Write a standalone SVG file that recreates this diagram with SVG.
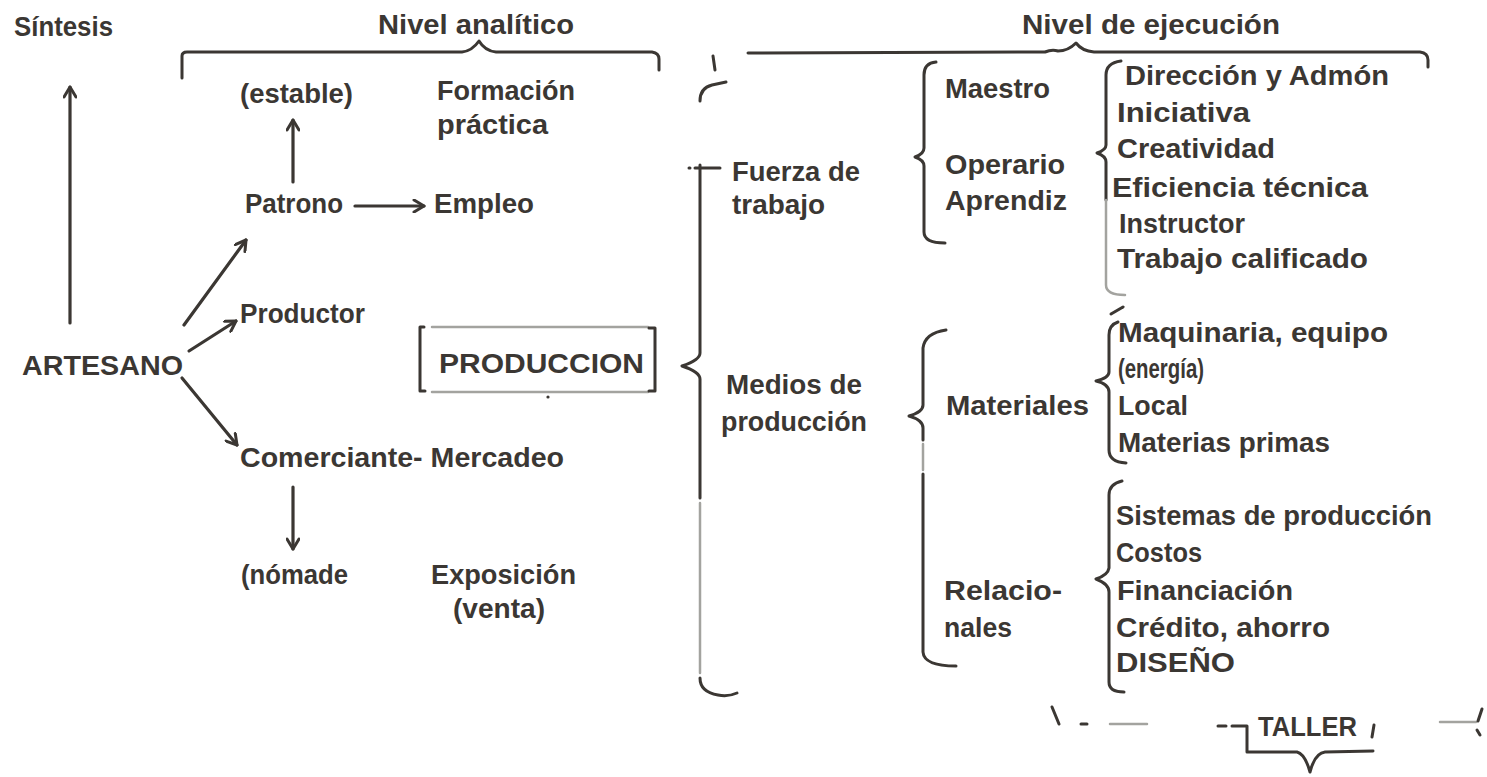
<svg xmlns="http://www.w3.org/2000/svg" width="1487" height="777" viewBox="0 0 1487 777">
<style>
.t{font-family:"Liberation Sans",Arial,sans-serif;font-weight:bold;font-size:27px;fill:#3b3733}
.ln{fill:none;stroke:#3b3733;stroke-width:3;stroke-linecap:round;stroke-linejoin:round}
.gr{fill:none;stroke:#a3a39f;stroke-width:2.5;stroke-linecap:round}
.ar{fill:none;stroke:#3b3733;stroke-width:3.2;stroke-linecap:round}
</style>
<defs>
<marker id="ah" viewBox="0 0 14 14" refX="12" refY="7" markerWidth="14" markerHeight="14" orient="auto" markerUnits="userSpaceOnUse">
<path d="M2,1 L12,7 L2,13" fill="none" stroke="#3b3733" stroke-width="3" stroke-linecap="round" stroke-linejoin="round"/>
</marker>
</defs>
<rect width="1487" height="777" fill="#ffffff"/>

<g id="header">
<g id="n-sintesis"><text class="t" x="14" y="36" textLength="99" lengthAdjust="spacingAndGlyphs">Síntesis</text></g>
<g id="n-nivel-analitico"><text class="t" x="378" y="34" textLength="196" lengthAdjust="spacingAndGlyphs">Nivel analítico</text></g>
<g id="n-nivel-ejecucion"><text class="t" x="1022" y="34" textLength="258" lengthAdjust="spacingAndGlyphs">Nivel de ejecución</text></g>
</g>

<g id="n-artesano"><text class="t" x="22" y="375" textLength="161" lengthAdjust="spacingAndGlyphs">ARTESANO</text></g>
<g id="n-estable"><text class="t" x="240" y="103" textLength="113" lengthAdjust="spacingAndGlyphs">(estable)</text></g>
<g id="n-formacion"><text class="t" x="437" y="100" textLength="138" lengthAdjust="spacingAndGlyphs">Formación</text><text class="t" x="437" y="134" textLength="111" lengthAdjust="spacingAndGlyphs">práctica</text></g>
<g id="n-patrono"><text class="t" x="245" y="213" textLength="98" lengthAdjust="spacingAndGlyphs">Patrono</text></g>
<g id="n-empleo"><text class="t" x="434" y="213" textLength="100" lengthAdjust="spacingAndGlyphs">Empleo</text></g>
<g id="n-productor"><text class="t" x="240" y="323" textLength="125" lengthAdjust="spacingAndGlyphs">Productor</text></g>
<g id="n-produccion">
<path class="ln" d="M424,327 L420,327 L420,391 L425,391" stroke-width="2.5"/>
<path class="gr" d="M432,327 L648,327 M432,392 L648,392"/>
<path class="ln" d="M649,328 L655,328 L655,391 L649,391" stroke-width="3"/>
<text class="t" x="439" y="373" textLength="205" lengthAdjust="spacingAndGlyphs">PRODUCCION</text>
<circle cx="548" cy="397" r="1.6" fill="#3b3733"/>
</g>
<g id="n-comerciante"><text class="t" x="240" y="467" textLength="324" lengthAdjust="spacingAndGlyphs">Comerciante- Mercadeo</text></g>
<g id="n-nomade"><text class="t" x="241" y="584" textLength="107" lengthAdjust="spacingAndGlyphs">(nómade</text></g>
<g id="n-exposicion"><text class="t" x="431" y="584" textLength="145" lengthAdjust="spacingAndGlyphs">Exposición</text><text class="t" x="453" y="618" textLength="92" lengthAdjust="spacingAndGlyphs">(venta)</text></g>

<g id="n-fuerza"><text class="t" x="732" y="181" textLength="128" lengthAdjust="spacingAndGlyphs">Fuerza de</text><text class="t" x="732" y="214" textLength="93" lengthAdjust="spacingAndGlyphs">trabajo</text></g>
<g id="n-medios"><text class="t" x="726" y="394" textLength="136" lengthAdjust="spacingAndGlyphs">Medios de</text><text class="t" x="721" y="431" textLength="146" lengthAdjust="spacingAndGlyphs">producción</text></g>

<g id="n-maestro"><text class="t" x="945" y="98" textLength="105" lengthAdjust="spacingAndGlyphs">Maestro</text></g>
<g id="n-operario"><text class="t" x="945" y="174" textLength="120" lengthAdjust="spacingAndGlyphs">Operario</text></g>
<g id="n-aprendiz"><text class="t" x="945" y="210" textLength="122" lengthAdjust="spacingAndGlyphs">Aprendiz</text></g>
<g id="n-materiales"><text class="t" x="946" y="415" textLength="143" lengthAdjust="spacingAndGlyphs">Materiales</text></g>
<g id="n-relacionales"><text class="t" x="944" y="600" textLength="118" lengthAdjust="spacingAndGlyphs">Relacio-</text><text class="t" x="944" y="637" textLength="68" lengthAdjust="spacingAndGlyphs">nales</text></g>

<g id="n-lista-fuerza">
<text class="t" x="1125" y="85" textLength="264" lengthAdjust="spacingAndGlyphs">Dirección y Admón</text>
<text class="t" x="1117" y="122" textLength="133" lengthAdjust="spacingAndGlyphs">Iniciativa</text>
<text class="t" x="1117" y="158" textLength="158" lengthAdjust="spacingAndGlyphs">Creatividad</text>
<text class="t" x="1112" y="197" textLength="256" lengthAdjust="spacingAndGlyphs">Eficiencia técnica</text>
<text class="t" x="1119" y="233" textLength="126" lengthAdjust="spacingAndGlyphs">Instructor</text>
<text class="t" x="1117" y="268" textLength="251" lengthAdjust="spacingAndGlyphs">Trabajo calificado</text>
</g>
<g id="n-lista-materiales">
<text class="t" x="1118" y="342" textLength="270" lengthAdjust="spacingAndGlyphs">Maquinaria, equipo</text>
<text class="t" x="1118" y="378" textLength="86" lengthAdjust="spacingAndGlyphs">(energía)</text>
<text class="t" x="1118" y="415" textLength="70" lengthAdjust="spacingAndGlyphs">Local</text>
<text class="t" x="1118" y="452" textLength="212" lengthAdjust="spacingAndGlyphs">Materias primas</text>
</g>
<g id="n-lista-relacionales">
<text class="t" x="1116" y="525" textLength="316" lengthAdjust="spacingAndGlyphs">Sistemas de producción</text>
<text class="t" x="1116" y="562" textLength="86" lengthAdjust="spacingAndGlyphs">Costos</text>
<text class="t" x="1117" y="600" textLength="176" lengthAdjust="spacingAndGlyphs">Financiación</text>
<text class="t" x="1116" y="637" textLength="214" lengthAdjust="spacingAndGlyphs">Crédito, ahorro</text>
<text class="t" x="1116" y="672" textLength="119" lengthAdjust="spacingAndGlyphs">DISEÑO</text>
</g>
<g id="n-taller"><text class="t" x="1258" y="736" textLength="99" lengthAdjust="spacingAndGlyphs">TALLER</text></g>

<g id="connectors">
<g id="arrows">
<path class="ar" d="M70,323 L70,87" marker-end="url(#ah)"/>
<path class="ar" d="M293,182 L293,120" marker-end="url(#ah)"/>
<path class="ar" d="M355,206 L424,206" marker-end="url(#ah)"/>
<path class="ar" d="M184,325 L246,240" marker-end="url(#ah)"/>
<path class="ar" d="M189,351 L236,321" marker-end="url(#ah)"/>
<path class="ar" d="M182,378 L237,445" marker-end="url(#ah)"/>
<path class="ar" d="M293,487 L293,549" marker-end="url(#ah)"/>
</g>
<g id="braces">
<path class="ln" d="M182,78 L182,56 Q182,52 187,52 L462,52 Q472,51 479,41 Q485,51 496,52 L652,52 Q659,53 659,59 L659,70"/>
<path class="ln" d="M713,56 L715,70 M700,101 Q700,88 712,85 L726,82"/>
<path class="ln" d="M748,53 L1045,52 Q1052,49 1058,51 Q1068,51 1076,43 Q1082,51 1094,52 L1420,52 Q1428,53 1428,60 L1428,67"/>
<path class="ln" d="M689,168 L690,168 M695,168 L720,168 M700,165 L700,353 Q700,360 682,366 Q700,372 700,379 L700,498"/>
<path class="gr" d="M700,503 L700,673"/>
<path class="ln" d="M700,678 Q700,692 718,695 Q728,697 737,693"/>
<path class="ln" d="M936,62 Q924,63 924,75 L924,148 Q924,154 915,157 Q924,160 924,166 L924,232 Q924,243 945,243"/>
<path class="ln" d="M1121,61 Q1106,63 1106,75 L1106,145 Q1106,150 1097,153 Q1106,156 1106,162 L1106,200"/>
<path class="gr" d="M1106,200 L1106,285 Q1106,295 1125,295"/>
<path class="ln" d="M946,330 Q925,333 923,348 L923,405 Q923,412 909,416 Q923,420 923,428 L923,440"/>
<path class="gr" d="M923,444 L923,470"/>
<path class="ln" d="M923,474 L923,652 Q924,666 956,666"/>
<path class="ln" d="M1111,314 L1123,307"/>
<path class="ln" d="M1118,322 Q1109,325 1109,335 L1109,372 Q1109,378 1096,381 Q1109,384 1109,392 L1109,450 Q1109,462 1126,463" stroke-width="4"/>
<path class="ln" d="M1122,481 Q1109,484 1109,495 L1109,568 Q1108,575 1096,579 Q1109,584 1109,592 L1109,682 Q1109,692 1124,692"/>
</g>
<g id="taller-brace">
<path class="ln" d="M1052,707 L1059,724"/>
<path class="ln" d="M1081,724 L1087,724" stroke-width="2.5"/>
<path class="gr" d="M1110,724 L1147,724"/>
<path class="ln" d="M1218,726 L1226,726 M1232,726 L1247,726 L1247,752 L1297,752 Q1305,754 1310,772 Q1315,753 1325,752 L1373,751" stroke-width="2.8"/>
<path class="ln" d="M1374,725 L1372,737" stroke-width="2.5"/>
<path class="gr" d="M1440,722 L1476,722"/>
<path class="ln" d="M1482,709 L1478,721 M1477,730 L1480,735" stroke-width="2.5"/>
</g>
</g>
</svg>
